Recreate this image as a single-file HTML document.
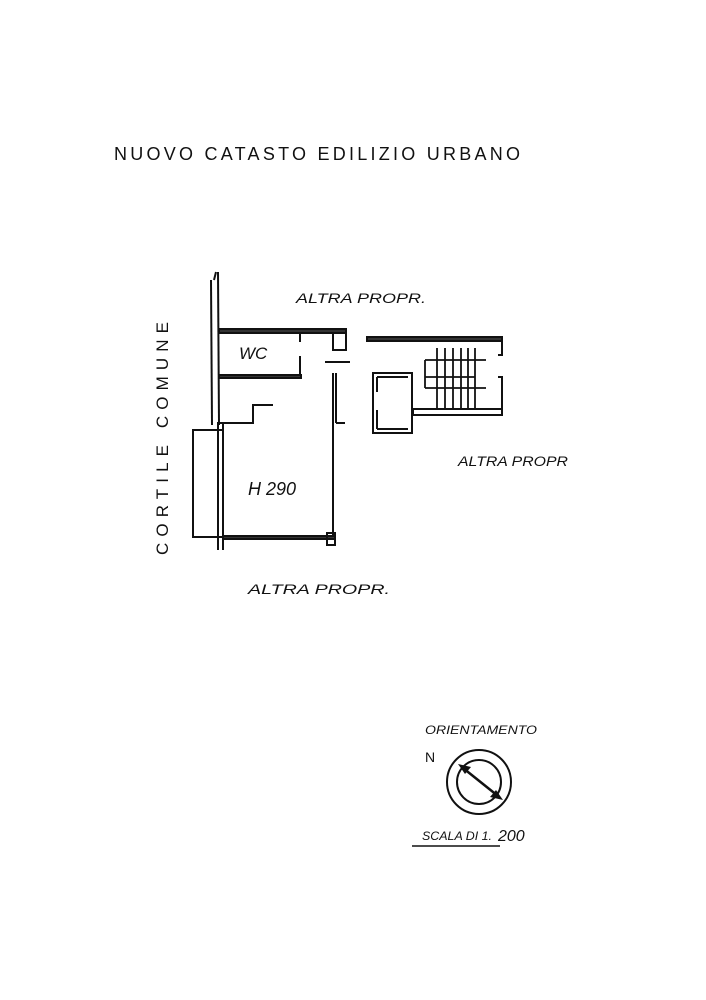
<!DOCTYPE html>
<html><head><meta charset="utf-8"><style>
html,body{margin:0;padding:0;background:#fff;}
svg{display:block;}
text{font-family:"Liberation Sans",sans-serif;fill:#111;}
.h{font-family:"Liberation Sans",sans-serif;font-style:italic;}
</style></head><body>
<svg width="706" height="1000" viewBox="0 0 706 1000" xmlns="http://www.w3.org/2000/svg">
<rect width="706" height="1000" fill="#fff"/>
<text x="114" y="160" font-size="18" textLength="406" lengthAdjust="spacing">NUOVO CATASTO EDILIZIO URBANO</text>

<g stroke="#111" fill="none" stroke-width="2">
<!-- outer left wall -->
<line x1="211" y1="280" x2="212" y2="425"/>
<line x1="218" y1="272" x2="219" y2="425"/>
<line x1="214" y1="280" x2="216" y2="272"/>
<!-- WC top wall -->
<rect x="219" y="329" width="127" height="4" fill="#333"/>
<rect x="333" y="333" width="13" height="17"/>
<line x1="300" y1="356" x2="300" y2="377"/>
<line x1="300" y1="333" x2="300" y2="342"/>
<!-- WC bottom wall -->
<rect x="219" y="375" width="82" height="3" fill="#333"/>
<!-- step -->
<polyline points="217,423 253,423 253,405 273,405"/>
<!-- left rectangle -->
<rect x="193" y="430" width="30" height="107"/>
<line x1="223" y1="423" x2="223" y2="550"/>
<line x1="218" y1="423" x2="218" y2="550"/>
<!-- bottom wall -->
<rect x="223" y="536" width="112" height="3" fill="#333"/>
<rect x="327" y="533" width="8" height="12"/>
<!-- right wall -->
<line x1="333" y1="373" x2="333" y2="537"/>
<line x1="336" y1="373" x2="336" y2="423"/>
<line x1="336" y1="423" x2="345" y2="423"/>
<line x1="325" y1="362" x2="350" y2="362"/>
<!-- stair block -->
<rect x="367" y="337" width="135" height="4" fill="#333"/>
<polyline points="502,341 502,355 498,355"/>
<polyline points="498,377 502,377 502,415 413,415 413,410"/>
<line x1="413" y1="409" x2="502" y2="409"/>
<rect x="373" y="373" width="39" height="60"/>
<line x1="377" y1="377" x2="408" y2="377"/>
<line x1="377" y1="429" x2="408" y2="429"/>
<line x1="377" y1="377" x2="377" y2="392"/>
<line x1="377" y1="410" x2="377" y2="429"/>
<!-- stairs -->
<g stroke-width="1.8">
<line x1="437" y1="348" x2="437" y2="408"/>
<line x1="445" y1="348" x2="445" y2="408"/>
<line x1="453" y1="348" x2="453" y2="408"/>
<line x1="461" y1="348" x2="461" y2="408"/>
<line x1="468" y1="348" x2="468" y2="408"/>
<line x1="475" y1="348" x2="475" y2="408"/>
<line x1="425" y1="360" x2="486" y2="360"/>
<line x1="425" y1="377" x2="475" y2="377"/>
<line x1="425" y1="388" x2="486" y2="388"/>
<line x1="425" y1="360" x2="425" y2="388"/>
</g>
</g>

<text class="h" x="296" y="303" font-size="14" textLength="130" lengthAdjust="spacingAndGlyphs">ALTRA PROPR.</text>
<text class="h" x="239" y="359" font-size="17">WC</text>
<text class="h" x="248" y="495" font-size="18">H 290</text>
<text class="h" x="458" y="466" font-size="14" textLength="110" lengthAdjust="spacingAndGlyphs">ALTRA PROPR</text>
<text class="h" x="248" y="594" font-size="14" textLength="142" lengthAdjust="spacingAndGlyphs">ALTRA PROPR.</text>
<text x="0" y="0" font-size="17" transform="translate(168,555) rotate(-90)" textLength="233" lengthAdjust="spacing">CORTILE  COMUNE</text>

<!-- compass -->
<text class="h" x="425" y="734" font-size="12" textLength="112" lengthAdjust="spacingAndGlyphs">ORIENTAMENTO</text>
<text x="425" y="762" font-size="14">N</text>
<circle cx="479" cy="782" r="32" fill="none" stroke="#111" stroke-width="2"/>
<circle cx="479" cy="782" r="22" fill="none" stroke="#111" stroke-width="2"/>
<line x1="463" y1="768" x2="498" y2="796" stroke="#111" stroke-width="2.5"/>
<polygon points="458,764 471,767 465,774" fill="#111"/>
<polygon points="503,800 490,797 496,790" fill="#111"/>
<text class="h" x="422" y="840" font-size="12" textLength="70" lengthAdjust="spacingAndGlyphs">SCALA DI 1.</text>
<text class="h" x="498" y="841" font-size="16">200</text>
<line x1="412" y1="846" x2="500" y2="846" stroke="#111" stroke-width="1.5"/>
</svg>
</body></html>
